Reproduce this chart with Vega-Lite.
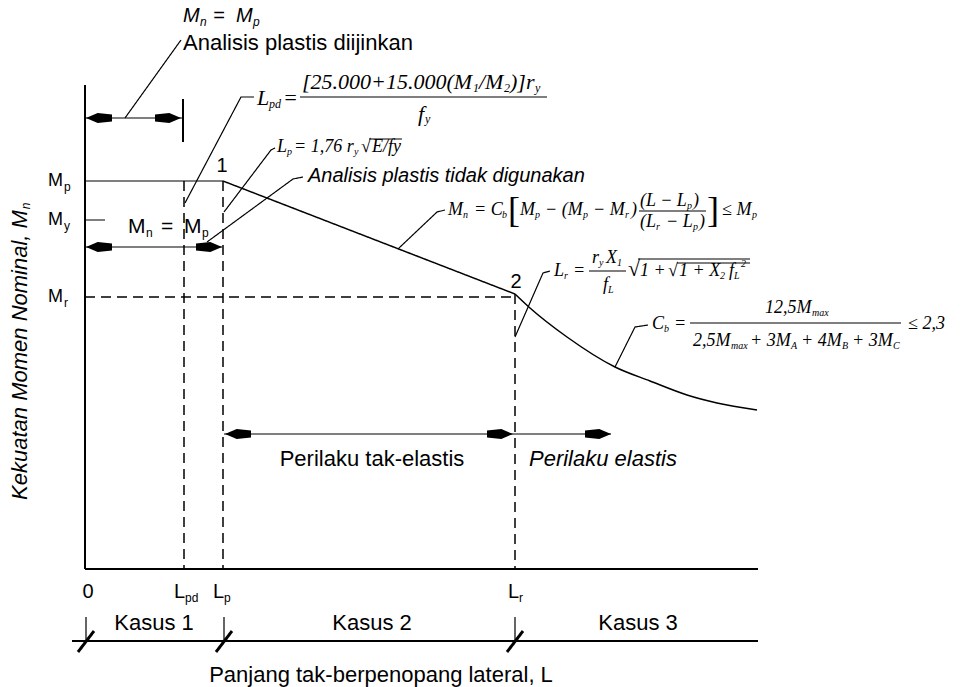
{
  "$schema": "https://vega.github.io/schema/vega-lite/v6.json",
  "width": 969,
  "height": 687,
  "autosize": {"type": "fit", "contains": "padding"},
  "padding": 0,
  "background": "white",
  "config": {"view": {"stroke": null}},
  "datasets": {
    "lines": [
      {"id": "axisY", "k": "axis", "o": 0, "x": 85, "y": 85}, {"id": "axisY", "k": "axis", "o": 1, "x": 85, "y": 569},
      {"id": "axisX", "k": "axis", "o": 0, "x": 85, "y": 569}, {"id": "axisX", "k": "axis", "o": 1, "x": 758, "y": 569},
      {"id": "mp", "k": "thin", "o": 0, "x": 85, "y": 181}, {"id": "mp", "k": "thin", "o": 1, "x": 223, "y": 181},
      {"id": "seg12", "k": "curve", "o": 0, "x": 223, "y": 181}, {"id": "seg12", "k": "curve", "o": 1, "x": 515, "y": 294},
      {"id": "my", "k": "thin", "o": 0, "x": 85, "y": 220}, {"id": "my", "k": "thin", "o": 1, "x": 105, "y": 220},
      {"id": "mr", "k": "dash", "o": 0, "x": 85, "y": 297}, {"id": "mr", "k": "dash", "o": 1, "x": 515, "y": 297},
      {"id": "lpd", "k": "dash", "o": 0, "x": 184, "y": 181}, {"id": "lpd", "k": "dash", "o": 1, "x": 184, "y": 569},
      {"id": "lp", "k": "dash", "o": 0, "x": 223, "y": 181}, {"id": "lp", "k": "dash", "o": 1, "x": 223, "y": 569},
      {"id": "lr", "k": "dash", "o": 0, "x": 515, "y": 294}, {"id": "lr", "k": "dash", "o": 1, "x": 515, "y": 569},
      {"id": "kline", "k": "axis", "o": 0, "x": 72, "y": 641}, {"id": "kline", "k": "axis", "o": 1, "x": 758, "y": 641},
      {"id": "tk1", "k": "thin", "o": 0, "x": 86, "y": 617}, {"id": "tk1", "k": "thin", "o": 1, "x": 86, "y": 641},
      {"id": "tk2", "k": "thin", "o": 0, "x": 224, "y": 617}, {"id": "tk2", "k": "thin", "o": 1, "x": 224, "y": 641},
      {"id": "tk3", "k": "thin", "o": 0, "x": 515, "y": 617}, {"id": "tk3", "k": "thin", "o": 1, "x": 515, "y": 641},
      {"id": "sl1", "k": "slash", "o": 0, "x": 78, "y": 652}, {"id": "sl1", "k": "slash", "o": 1, "x": 94, "y": 631},
      {"id": "sl2", "k": "slash", "o": 0, "x": 216, "y": 652}, {"id": "sl2", "k": "slash", "o": 1, "x": 232, "y": 631},
      {"id": "sl3", "k": "slash", "o": 0, "x": 507, "y": 652}, {"id": "sl3", "k": "slash", "o": 1, "x": 523, "y": 631},
      {"id": "arT", "k": "thin", "o": 0, "x": 86, "y": 118}, {"id": "arT", "k": "thin", "o": 1, "x": 182, "y": 118},
      {"id": "barT", "k": "axis", "o": 0, "x": 183, "y": 99}, {"id": "barT", "k": "axis", "o": 1, "x": 183, "y": 142},
      {"id": "arM", "k": "thin", "o": 0, "x": 86, "y": 247}, {"id": "arM", "k": "thin", "o": 1, "x": 222, "y": 247},
      {"id": "arB", "k": "thin", "o": 0, "x": 224, "y": 434}, {"id": "arB", "k": "thin", "o": 1, "x": 611, "y": 434},
      {"id": "ld1", "k": "thin", "o": 0, "x": 125, "y": 118}, {"id": "ld1", "k": "thin", "o": 1, "x": 181, "y": 40},
      {"id": "ld2", "k": "thin", "o": 0, "x": 185, "y": 203}, {"id": "ld2", "k": "thin", "o": 1, "x": 241, "y": 97}, {"id": "ld2", "k": "thin", "o": 2, "x": 254, "y": 97},
      {"id": "ld3", "k": "thin", "o": 0, "x": 224, "y": 212}, {"id": "ld3", "k": "thin", "o": 1, "x": 271, "y": 150}, {"id": "ld3", "k": "thin", "o": 2, "x": 275, "y": 148},
      {"id": "ld4", "k": "thin", "o": 0, "x": 207, "y": 242}, {"id": "ld4", "k": "thin", "o": 1, "x": 293, "y": 179}, {"id": "ld4", "k": "thin", "o": 2, "x": 303, "y": 177},
      {"id": "ld5", "k": "thin", "o": 0, "x": 398, "y": 249}, {"id": "ld5", "k": "thin", "o": 1, "x": 437, "y": 212}, {"id": "ld5", "k": "thin", "o": 2, "x": 445, "y": 210},
      {"id": "ld6", "k": "thin", "o": 0, "x": 515, "y": 337}, {"id": "ld6", "k": "thin", "o": 1, "x": 543, "y": 273}, {"id": "ld6", "k": "thin", "o": 2, "x": 550, "y": 271},
      {"id": "ld7", "k": "thin", "o": 0, "x": 615, "y": 367}, {"id": "ld7", "k": "thin", "o": 1, "x": 635, "y": 327}, {"id": "ld7", "k": "thin", "o": 2, "x": 648, "y": 325},
      {"id": "fb1", "k": "thin", "o": 0, "x": 300, "y": 97}, {"id": "fb1", "k": "thin", "o": 1, "x": 547, "y": 97},
      {"id": "fb2", "k": "thin", "o": 0, "x": 639, "y": 211}, {"id": "fb2", "k": "thin", "o": 1, "x": 706, "y": 211},
      {"id": "fb3", "k": "thin", "o": 0, "x": 589, "y": 271}, {"id": "fb3", "k": "thin", "o": 1, "x": 626, "y": 271},
      {"id": "fb4", "k": "thin", "o": 0, "x": 690, "y": 323}, {"id": "fb4", "k": "thin", "o": 1, "x": 901, "y": 323},
      {"id": "ov1", "k": "thin", "o": 0, "x": 369, "y": 139}, {"id": "ov1", "k": "thin", "o": 1, "x": 402, "y": 139},
      {"id": "ov2", "k": "thin", "o": 0, "x": 638, "y": 259}, {"id": "ov2", "k": "thin", "o": 1, "x": 750, "y": 259},
      {"id": "ov3", "k": "thin", "o": 0, "x": 677, "y": 263}, {"id": "ov3", "k": "thin", "o": 1, "x": 750, "y": 263}
    ],
    "curve": [
      {"o": 0, "x": 515, "y": 294}, {"o": 1, "x": 530, "y": 308}, {"o": 2, "x": 567, "y": 337},
      {"o": 3, "x": 615, "y": 367}, {"o": 4, "x": 650, "y": 381}, {"o": 5, "x": 687, "y": 395},
      {"o": 6, "x": 717, "y": 403}, {"o": 7, "x": 757, "y": 410}
    ],
    "heads": [
      {"x": 99, "y": 118, "d": "L"}, {"x": 168, "y": 118, "d": "R"},
      {"x": 99, "y": 247, "d": "L"}, {"x": 209, "y": 247, "d": "R"},
      {"x": 238, "y": 434, "d": "L"}, {"x": 500, "y": 434, "d": "R"}, {"x": 598, "y": 434, "d": "R"}
    ],
    "sansC": [
      {"t": "Kasus 1", "x": 154, "y": 623, "r": "xl"},
      {"t": "Kasus 2", "x": 372, "y": 623, "r": "xl"},
      {"t": "Kasus 3", "x": 638, "y": 623, "r": "xl"},
      {"t": "Panjang tak-berpenopang lateral, L", "x": 381, "y": 675, "r": "xl"},
      {"t": "Perilaku tak-elastis", "x": 372, "y": 459, "r": "xl"},
      {"t": "0", "x": 88, "y": 592, "r": "m"},
      {"t": "1", "x": 222, "y": 166, "r": "m"},
      {"t": "2", "x": 516, "y": 282, "r": "m"}
    ],
    "sansL": [
      {"t": "Analisis plastis diijinkan", "x": 183, "y": 43, "r": "xl"},
      {"t": "M", "x": 48, "y": 181, "r": "s"}, {"t": "p", "x": 64, "y": 187, "r": "sub"},
      {"t": "M", "x": 48, "y": 220, "r": "s"}, {"t": "y", "x": 64, "y": 226, "r": "sub"},
      {"t": "M", "x": 48, "y": 297, "r": "s"}, {"t": "r", "x": 64, "y": 303, "r": "sub"},
      {"t": "M", "x": 128, "y": 227, "r": "l"}, {"t": "n", "x": 146, "y": 233, "r": "sub"},
      {"t": "=", "x": 161, "y": 227, "r": "l"}, {"t": "M", "x": 184, "y": 227, "r": "l"}, {"t": "p", "x": 202, "y": 233, "r": "sub"},
      {"t": "L", "x": 174, "y": 592, "r": "m"}, {"t": "pd", "x": 185, "y": 598, "r": "sub"},
      {"t": "L", "x": 213, "y": 592, "r": "m"}, {"t": "p", "x": 224, "y": 598, "r": "sub"},
      {"t": "L", "x": 508, "y": 592, "r": "m"}, {"t": "r", "x": 519, "y": 598, "r": "sub"}
    ],
    "sansI": [
      {"t": "M", "x": 183, "y": 16, "r": "m"}, {"t": "n", "x": 200, "y": 22, "r": "sub"},
      {"t": "=", "x": 213, "y": 16, "r": "m"}, {"t": "M", "x": 236, "y": 16, "r": "m"}, {"t": "p", "x": 253, "y": 22, "r": "sub"},
      {"t": "Analisis plastis tidak digunakan", "x": 308, "y": 176, "r": "m"},
      {"t": "Perilaku elastis", "x": 529, "y": 459, "r": "xl"}
    ],
    "ytitle": [
      {"t": "Kekuatan Momen Nominal, M", "x": 20, "y": 355, "r": "xl"},
      {"t": "n", "x": 26, "y": 206, "r": "sub"}
    ],
    "serifN": [
      {"t": "√", "x": 361, "y": 147, "r": "s"},
      {"t": "[", "x": 508, "y": 211, "r": "brk"},
      {"t": "]", "x": 707, "y": 211, "r": "brk"},
      {"t": "√", "x": 628, "y": 269, "r": "xl"},
      {"t": "√", "x": 668, "y": 271, "r": "s"}
    ],
    "serifI": [
      {"t": "L", "x": 257, "y": 98, "r": "xl"}, {"t": "pd", "x": 269, "y": 104, "r": "sub"},
      {"t": "=", "x": 283, "y": 98, "r": "xl"},
      {"t": "[25.000+15.000(M", "x": 302, "y": 82, "r": "xl"}, {"t": "1", "x": 473, "y": 88, "r": "sub"},
      {"t": "/M", "x": 479, "y": 82, "r": "xl"}, {"t": "2", "x": 504, "y": 88, "r": "sub"},
      {"t": ")]r", "x": 510, "y": 82, "r": "xl"}, {"t": "y", "x": 535, "y": 88, "r": "sub"},
      {"t": "f", "x": 418, "y": 114, "r": "xl"}, {"t": "y", "x": 425, "y": 119, "r": "sub"},

      {"t": "L", "x": 277, "y": 147, "r": "s"}, {"t": "p", "x": 287, "y": 152, "r": "subs"},
      {"t": "= 1,76 r", "x": 294, "y": 147, "r": "s"}, {"t": "y", "x": 354, "y": 152, "r": "subs"},
      {"t": "E/fy", "x": 372, "y": 147, "r": "s"},

      {"t": "M", "x": 448, "y": 210, "r": "s"}, {"t": "n", "x": 463, "y": 215, "r": "subs"},
      {"t": "= C", "x": 474, "y": 210, "r": "s"}, {"t": "b", "x": 502, "y": 215, "r": "subs"},
      {"t": "M", "x": 520, "y": 210, "r": "s"}, {"t": "p", "x": 535, "y": 215, "r": "subs"},
      {"t": "− (M", "x": 545, "y": 210, "r": "s"}, {"t": "p", "x": 583, "y": 215, "r": "subs"},
      {"t": "− M", "x": 593, "y": 210, "r": "s"}, {"t": "r", "x": 625, "y": 215, "r": "subs"},
      {"t": ")", "x": 631, "y": 210, "r": "s"},
      {"t": "(L − L", "x": 640, "y": 201, "r": "s"}, {"t": "p", "x": 687, "y": 206, "r": "subs"}, {"t": ")", "x": 693, "y": 201, "r": "s"},
      {"t": "(L", "x": 640, "y": 222, "r": "s"}, {"t": "r", "x": 656, "y": 227, "r": "subs"},
      {"t": "− L", "x": 666, "y": 222, "r": "s"}, {"t": "p", "x": 693, "y": 227, "r": "subs"}, {"t": ")", "x": 699, "y": 222, "r": "s"},
      {"t": "≤ M", "x": 722, "y": 210, "r": "s"}, {"t": "p", "x": 752, "y": 215, "r": "subs"},

      {"t": "L", "x": 554, "y": 271, "r": "s"}, {"t": "r", "x": 564, "y": 276, "r": "subs"},
      {"t": "=", "x": 573, "y": 271, "r": "s"},
      {"t": "r", "x": 592, "y": 258, "r": "s"}, {"t": "y", "x": 599, "y": 263, "r": "subs"},
      {"t": "X", "x": 606, "y": 258, "r": "s"}, {"t": "1", "x": 617, "y": 263, "r": "subs"},
      {"t": "f", "x": 603, "y": 285, "r": "s"}, {"t": "L", "x": 608, "y": 290, "r": "subs"},
      {"t": "1 +", "x": 640, "y": 271, "r": "s"},
      {"t": "1 + X", "x": 679, "y": 271, "r": "s"}, {"t": "2", "x": 720, "y": 276, "r": "subs"},
      {"t": "f", "x": 729, "y": 271, "r": "s"}, {"t": "L", "x": 734, "y": 276, "r": "subs"}, {"t": "2", "x": 741, "y": 264, "r": "subs"},

      {"t": "C", "x": 652, "y": 324, "r": "s"}, {"t": "b", "x": 664, "y": 329, "r": "subs"},
      {"t": "=", "x": 674, "y": 324, "r": "s"},
      {"t": "12,5M", "x": 765, "y": 308, "r": "s"}, {"t": "max", "x": 812, "y": 313, "r": "subs"},
      {"t": "2,5M", "x": 693, "y": 341, "r": "s"}, {"t": "max", "x": 731, "y": 346, "r": "subs"},
      {"t": "+ 3M", "x": 750, "y": 341, "r": "s"}, {"t": "A", "x": 791, "y": 346, "r": "subs"},
      {"t": "+ 4M", "x": 801, "y": 341, "r": "s"}, {"t": "B", "x": 842, "y": 346, "r": "subs"},
      {"t": "+ 3M", "x": 852, "y": 341, "r": "s"}, {"t": "C", "x": 893, "y": 346, "r": "subs"},
      {"t": "≤ 2,3", "x": 908, "y": 324, "r": "s"}
    ]
  },
  "encoding": {
    "x": {"field": "x", "type": "quantitative", "scale": {"domain": [0, 969], "nice": false, "zero": false}, "axis": null},
    "y": {"field": "y", "type": "quantitative", "scale": {"domain": [0, 687], "nice": false, "zero": false, "reverse": true}, "axis": null}
  },
  "layer": [
    {
      "data": {"name": "lines"},
      "mark": {"type": "line", "color": "black", "strokeCap": "butt"},
      "encoding": {
        "detail": {"field": "id", "type": "nominal"},
        "order": {"field": "o", "type": "quantitative"},
        "strokeWidth": {"field": "k", "type": "nominal", "scale": {"type": "ordinal", "domain": ["axis", "thin", "dash", "slash", "curve"], "range": [2, 1.2, 1.5, 3, 1.5]}, "legend": null},
        "strokeDash": {"field": "k", "type": "nominal", "scale": {"domain": ["axis", "thin", "dash", "slash", "curve"], "range": [[1, 0], [1, 0], [10, 6], [1, 0], [1, 0]]}, "legend": null}
      }
    },
    {
      "data": {"name": "curve"},
      "mark": {"type": "line", "color": "black", "strokeWidth": 1.5, "interpolate": "monotone"},
      "encoding": {"order": {"field": "o", "type": "quantitative"}}
    },
    {
      "data": {"name": "heads"},
      "mark": {"type": "point", "filled": true, "color": "black", "opacity": 1, "size": 676, "strokeWidth": 0},
      "encoding": {
        "shape": {"field": "d", "type": "nominal", "scale": {"domain": ["L", "R"], "range": ["M-1,0L-0.1,-0.38L1,-0.26L1,0.26L-0.1,0.38Z", "M1,0L0.1,-0.38L-1,-0.26L-1,0.26L0.1,0.38Z"]}, "legend": null}
      }
    },
    {
      "data": {"name": "sansC"},
      "mark": {"type": "text", "font": "Liberation Sans", "align": "center", "baseline": "middle", "color": "black"},
      "encoding": {
        "text": {"field": "t", "type": "nominal"},
        "size": {"field": "r", "type": "nominal", "scale": {"type": "ordinal", "domain": ["xl", "l", "m", "s", "sub", "subs", "brk"], "range": [22, 21, 20, 18, 12, 10, 36]}, "legend": null}
      }
    },
    {
      "data": {"name": "sansL"},
      "mark": {"type": "text", "font": "Liberation Sans", "align": "left", "baseline": "middle", "color": "black"},
      "encoding": {
        "text": {"field": "t", "type": "nominal"},
        "size": {"field": "r", "type": "nominal", "scale": {"type": "ordinal", "domain": ["xl", "l", "m", "s", "sub", "subs", "brk"], "range": [22, 21, 20, 18, 12, 10, 36]}, "legend": null}
      }
    },
    {
      "data": {"name": "sansI"},
      "mark": {"type": "text", "font": "Liberation Sans", "fontStyle": "italic", "align": "left", "baseline": "middle", "color": "black"},
      "encoding": {
        "text": {"field": "t", "type": "nominal"},
        "size": {"field": "r", "type": "nominal", "scale": {"type": "ordinal", "domain": ["xl", "l", "m", "s", "sub", "subs", "brk"], "range": [22, 21, 20, 18, 12, 10, 36]}, "legend": null}
      }
    },
    {
      "data": {"name": "ytitle"},
      "mark": {"type": "text", "font": "Liberation Sans", "fontStyle": "italic", "align": "center", "baseline": "middle", "angle": 270, "color": "black"},
      "encoding": {
        "text": {"field": "t", "type": "nominal"},
        "size": {"field": "r", "type": "nominal", "scale": {"type": "ordinal", "domain": ["xl", "l", "m", "s", "sub", "subs", "brk"], "range": [22, 21, 20, 18, 12, 10, 36]}, "legend": null}
      }
    },
    {
      "data": {"name": "serifN"},
      "mark": {"type": "text", "font": "Liberation Serif", "align": "left", "baseline": "middle", "color": "black"},
      "encoding": {
        "text": {"field": "t", "type": "nominal"},
        "size": {"field": "r", "type": "nominal", "scale": {"type": "ordinal", "domain": ["xl", "l", "m", "s", "sub", "subs", "brk"], "range": [22, 21, 20, 18, 12, 10, 36]}, "legend": null}
      }
    },
    {
      "data": {"name": "serifI"},
      "mark": {"type": "text", "font": "Liberation Serif", "fontStyle": "italic", "align": "left", "baseline": "middle", "color": "black"},
      "encoding": {
        "text": {"field": "t", "type": "nominal"},
        "size": {"field": "r", "type": "nominal", "scale": {"type": "ordinal", "domain": ["xl", "l", "m", "s", "sub", "subs", "brk"], "range": [22, 21, 20, 18, 12, 10, 36]}, "legend": null}
      }
    }
  ]
}
